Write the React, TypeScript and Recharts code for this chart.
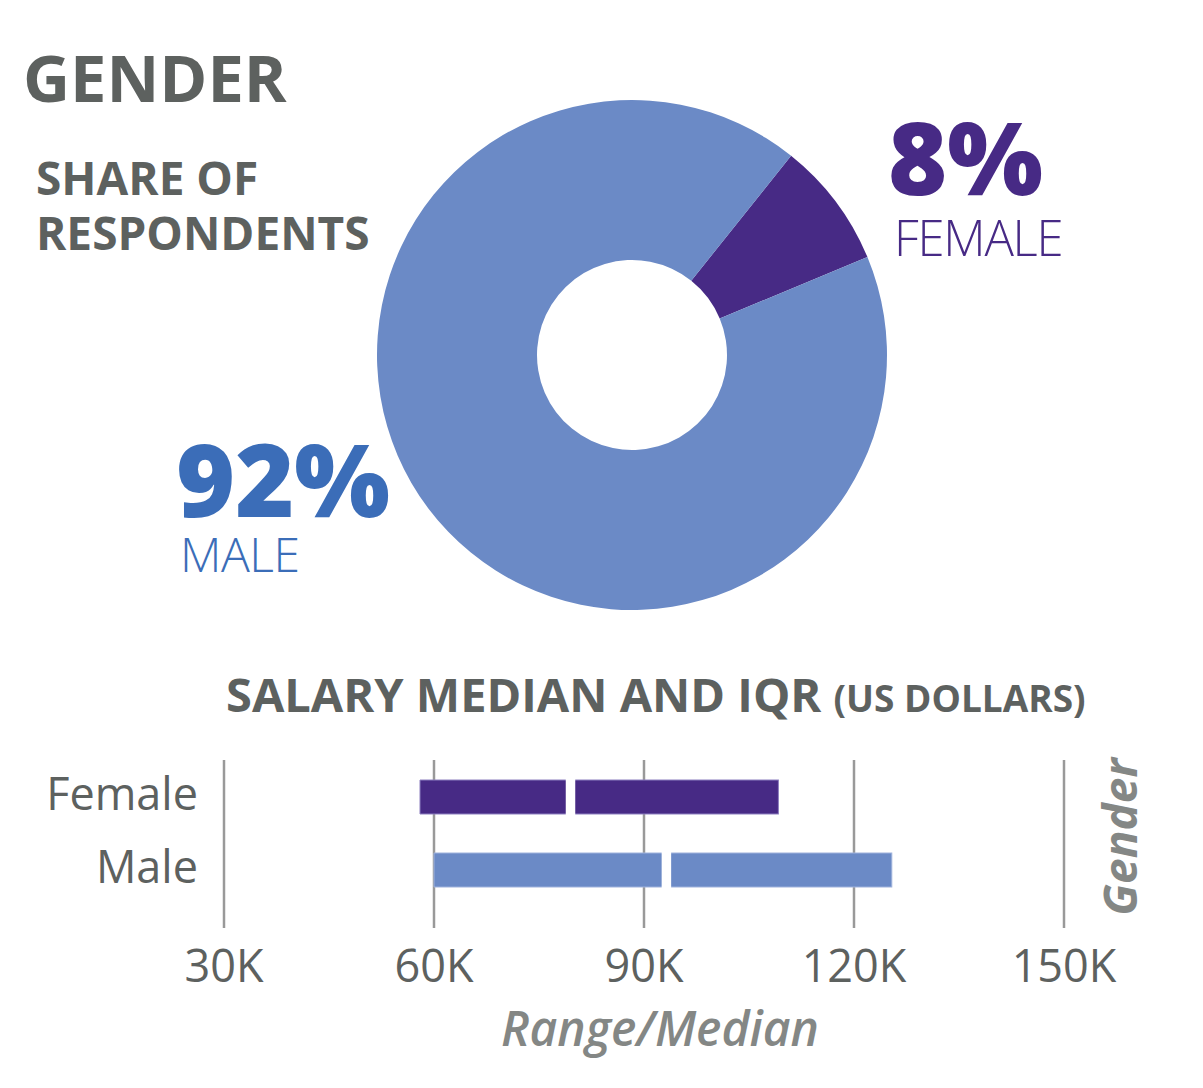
import { PieChart, Pie, Cell, BarChart, Bar, XAxis, YAxis, CartesianGrid } from 'recharts'

const genderNames = ['Female', 'Male']
const genderShares = [8, 92]
const genderColors = ['#472a85', '#6b8ac6']
const genderStrokes = ['#8c7fbf', '#9fb2dc']

const q1Salary = [58000, 60000]
const medianSalary = [79500, 93200]
const q3Salary = [109200, 125400]
const salaryTicks = [30000, 60000, 90000, 120000, 150000]

const GRAY = '#5d615f'
const FONT = '"Open Sans", "Noto Sans", sans-serif'

const pieData = genderNames.map((name, i) => ({ name, value: genderShares[i] }))

const barData = genderNames.map((name, i) => ({
  name,
  base: q1Salary[i],
  lower: medianSalary[i] - q1Salary[i],
  upper: q3Salary[i] - medianSalary[i],
}))

const XTick = ({ x, y, payload }: any) => (
  <text x={x} y={y} dy={46} textAnchor="middle" fontSize={45} fill={GRAY} fontFamily={FONT}>
    {`${payload.value / 1000}K`}
  </text>
)

const YTick = ({ x, y, payload }: any) => (
  <text x={x} y={y} dx={-18} dy={13} textAnchor="end" fontSize={45} fill={GRAY} fontFamily={FONT}>
    {payload.value}
  </text>
)

// upper half of the IQR bar, with a white notch marking the median
const MedianShape = (props: any) => {
  const { x, y, width, height, fill, stroke } = props
  return (
    <g>
      <rect x={x} y={y} width={width} height={height} fill={fill} stroke={stroke} strokeWidth={1} />
      <rect x={x - 4.75} y={y - 1} width={9.5} height={height + 2} fill="#fff" />
    </g>
  )
}

export default function App() {
  return (
    <div style={{ position: 'absolute', left: 0, top: 0, width: 1203, height: 1088, background: '#fff', fontFamily: FONT }}>
      <div style={{ position: 'absolute', left: 0, top: 0 }}>
        <PieChart width={1203} height={650} margin={{ top: 0, right: 0, bottom: 0, left: 0 }}>
          <Pie
            data={pieData}
            dataKey="value"
            cx={632}
            cy={355}
            innerRadius={95}
            outerRadius={255}
            startAngle={51.4}
            endAngle={-308.6}
            stroke="none"
            isAnimationActive={false}
          >
            {pieData.map((d, i) => (
              <Cell key={d.name} fill={genderColors[i]} />
            ))}
          </Pie>
        </PieChart>
      </div>

      <div style={{ position: 'absolute', left: 0, top: 740 }}>
        <BarChart
          width={1203}
          height={348}
          data={barData}
          layout="vertical"
          margin={{ top: 20, right: 139, bottom: 0, left: 0 }}
          barSize={34}
        >
          <CartesianGrid horizontal={false} stroke="#999999" strokeWidth={2.5} />
          <XAxis
            type="number"
            domain={[30000, 150000]}
            ticks={salaryTicks}
            allowDataOverflow
            axisLine={false}
            tickLine={false}
            height={160}
            tick={<XTick />}
          />
          <YAxis
            type="category"
            dataKey="name"
            width={224}
            axisLine={false}
            tickLine={false}
            padding={{ top: 0, bottom: 22 }}
            tick={<YTick />}
          />
          <Bar dataKey="base" stackId="iqr" fill="transparent" isAnimationActive={false} />
          <Bar dataKey="lower" stackId="iqr" isAnimationActive={false}>
            {barData.map((d, i) => (
              <Cell key={d.name} fill={genderColors[i]} stroke={genderStrokes[i]} strokeWidth={1} />
            ))}
          </Bar>
          <Bar dataKey="upper" stackId="iqr" shape={<MedianShape />} isAnimationActive={false}>
            {barData.map((d, i) => (
              <Cell key={d.name} fill={genderColors[i]} stroke={genderStrokes[i]} />
            ))}
          </Bar>
        </BarChart>
      </div>

      <svg width={1203} height={1088} style={{ position: 'absolute', left: 0, top: 0, pointerEvents: 'none' }}>
        <g fontFamily={FONT}>
          <text x={23} y={102} fontSize={65} fontWeight={700} fill={GRAY}>GENDER</text>
          <text x={36} y={195} fontSize={46} fontWeight={700} fill={GRAY}>SHARE OF</text>
          <text x={36} y={250} fontSize={46} fontWeight={700} fill={GRAY}>RESPONDENTS</text>

          <text x={888} y={195} fontSize={101} fontWeight={800} fill="#472a85">8%</text>
          <text x={894} y={256} fontSize={49} fontWeight={300} letterSpacing={-1.2} fill="#472a85">FEMALE</text>

          <text x={176} y={517} fontSize={101} fontWeight={800} fill="#3b6db8">92%</text>
          <text x={180} y={572} fontSize={48} fontWeight={300} letterSpacing={-0.5} fill="#3b6db8">MALE</text>

          <text x={226} y={712} fontSize={47} fontWeight={700} fill={GRAY}>
            SALARY MEDIAN AND IQR <tspan fontSize={37}>(US DOLLARS)</tspan>
          </text>

          <text x={660} y={1046} textAnchor="middle" fontSize={48} fontWeight={600} fontStyle="italic" fill="#848785">
            Range/Median
          </text>
          <text
            transform="translate(1137 837) rotate(-90)"
            textAnchor="middle"
            fontSize={46}
            fontWeight={700}
            fontStyle="italic"
            fill="#848785"
          >
            Gender
          </text>
        </g>
      </svg>
    </div>
  )
}
